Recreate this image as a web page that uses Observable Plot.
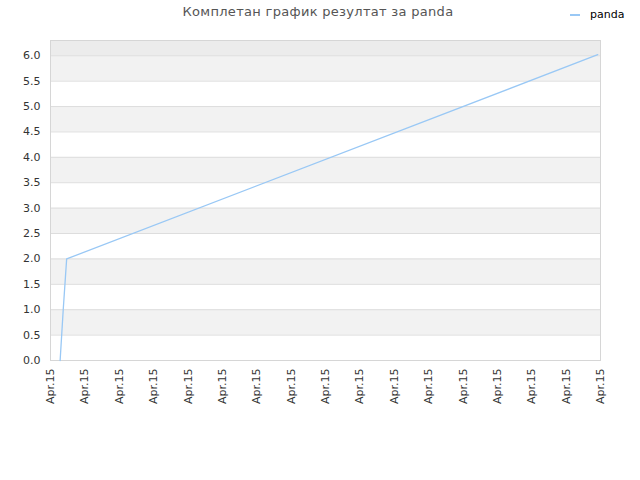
<!DOCTYPE html>
<html><head><meta charset="utf-8">
<script src="https://cdn.jsdelivr.net/npm/d3@7"></script>
<script src="https://cdn.jsdelivr.net/npm/@observablehq/plot@0.6"></script>
<style>
body{margin:0;background:#fff;font-family:"DejaVu Sans",sans-serif;}
#wrap{position:relative;width:640px;height:480px;}
#title{position:absolute;left:0;width:636px;top:4px;text-align:center;font-size:13px;color:#555;letter-spacing:0.3px;}
#legend{position:absolute;left:570px;top:8px;font-size:11px;color:#000;display:flex;align-items:center;}
#legend span.sw{display:inline-block;width:10px;height:2px;background:#99c8f5;margin-right:10px;}
#chart{position:absolute;left:0;top:0;}
</style></head>
<body><div id="wrap"><div id="chart"></div><div id="title">Комплетан график резултат за panda</div><div id="legend"><span class="sw"></span>panda</div></div>
<script>
const seriesName = "panda";
const xValues = [0.28, 0.37, 0.47, 15.92];
const yValues = [0, 1.0, 2.0, 6.02];
const xTickValues = d3.range(0, 17);
const xTickLabel = "Apr.15";
const yTickValues = d3.range(0, 6.01, 0.5);
const grayBandStarts = [0.5, 1.5, 2.5, 3.5, 4.5, 5.5];
const yMax = 6.3;

const data = xValues.map((x, i) => ({x, y: yValues[i]}));
const bands = grayBandStarts.map(s => ({y1: s, y2: s + 0.5}));

const plot = Plot.plot({
  width: 640, height: 480,
  marginLeft: 50, marginRight: 40, marginTop: 40, marginBottom: 120,
  style: {fontFamily: "DejaVu Sans, sans-serif", fontSize: "11px", color: "#333", background: "transparent"},
  x: {domain: [0, 16]},
  y: {domain: [0, yMax]},
  marks: [
    Plot.rectY([{y1: 6, y2: yMax}], {x1: 0, x2: 16, y1: "y1", y2: "y2", fill: "#ececec"}),
    Plot.rectY(bands, {x1: 0, x2: 16, y1: "y1", y2: "y2", fill: "#f2f2f2"}),
    Plot.ruleY(yTickValues.slice(1), {stroke: "#dddddd"}),
    Plot.frame({stroke: "#d6d6d6"}),
    Plot.axisY({ticks: yTickValues, tickFormat: d3.format(".1f"), tickSize: 0, tickPadding: 10, label: null, fill: "#333"}),
    Plot.axisX({ticks: xTickValues, tickFormat: () => xTickLabel, tickSize: 0, tickPadding: 8, tickRotate: -90, label: null, fill: "#333"}),
    Plot.line(data, {x: "x", y: "y", stroke: "#99c8f5", strokeWidth: 1.3})
  ]
});
document.getElementById("chart").appendChild(plot);
</script></body></html>
